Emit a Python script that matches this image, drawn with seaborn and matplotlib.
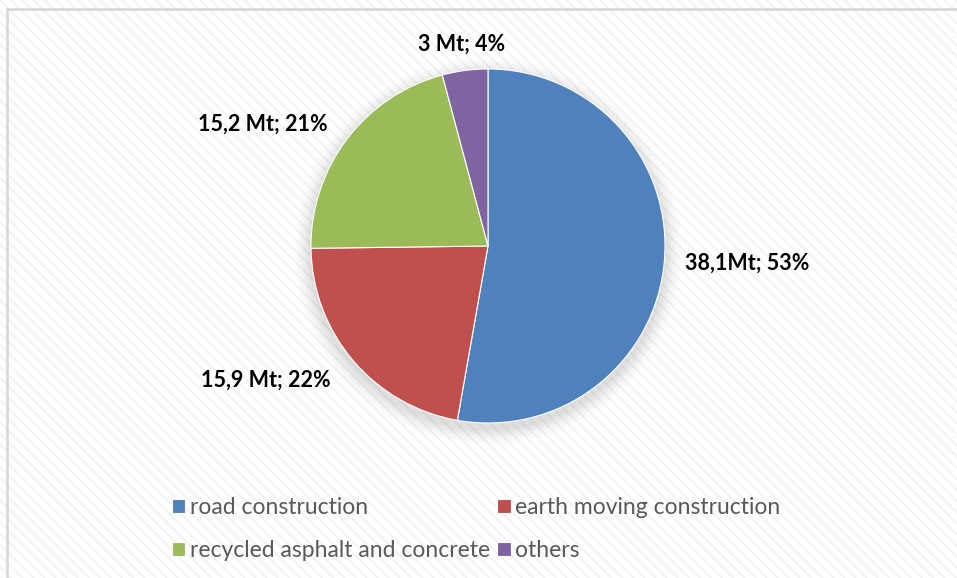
import numpy as np
import matplotlib.pyplot as plt
import seaborn as sns
from matplotlib.patches import Circle, Rectangle


sns.set_theme(style="white")
plt.rcParams['font.family'] = ['Lato', 'DejaVu Sans']
plt.rcParams['hatch.linewidth'] = 1.2

categories = ["road construction", "earth moving construction",
              "recycled asphalt and concrete", "others"]
values_mt = [38.1, 15.9, 15.2, 3.0]
slice_labels = ["38,1Mt; 53%", "15,9 Mt; 22%", "15,2 Mt; 21%", "3 Mt; 4%"]
label_dist = [1.12, 1.17, 1.14, 1.15]

colors = sns.color_palette(["#4F81BD", "#C0504D", "#9BBB59", "#8064A2"])

fig = plt.figure(figsize=(9.57, 5.78), dpi=100)
W, H = 957, 578

# faint striped background and light frame
fig.patches.append(Rectangle((0, 0), 1, 1, transform=fig.transFigure,
                             facecolor='white', edgecolor='#f1f1f1',
                             hatch='\\\\\\', lw=0, zorder=-10))
fig.patches.append(Rectangle((7 / W, -0.1), 1.1, 1 - 9 / H + 0.1,
                             transform=fig.transFigure, fill=False,
                             edgecolor='#d9d9d9', lw=2, zorder=-5))

# pie: centre ~ (488, 246) px, radius ~177 px
r_px = 177.0
cx, cy = 488, H - 246
ax = fig.add_axes([0, 0, 1, 1])
ax.axis('off')

# soft shadow
for k, a in enumerate(np.linspace(0.05, 0.012, 8)):
    ax.add_patch(Circle((0.0, -0.03), 1.0 + 0.012 * (k + 1),
                        facecolor='#7f7f7f', alpha=a, lw=0, zorder=0))

wedges, _ = ax.pie(values_mt, colors=colors, startangle=90, counterclock=False,
                   wedgeprops=dict(edgecolor='white', linewidth=0.8))
for w in wedges:
    w.set_zorder(2)

ax.set_xlim(-cx / r_px, (W - cx) / r_px)
ax.set_ylim(-cy / r_px, (H - cy) / r_px)
ax.set_aspect('equal')

for w, lab, d in zip(wedges, slice_labels, label_dist):
    ang = np.deg2rad((w.theta1 + w.theta2) / 2)
    x, y = d * np.cos(ang), d * np.sin(ang)
    if np.cos(ang) > 0.2:
        ha = 'left'
    elif np.cos(ang) < -0.2:
        ha = 'right'
    else:
        ha = 'center'
    ax.text(x, y, lab, ha=ha, va='center', fontsize=15.5, fontweight='bold',
            color='black', zorder=3)

order = [0, 2, 1, 3]
leg = fig.legend([wedges[i] for i in order], [categories[i] for i in order],
                 ncol=2, loc='center', bbox_to_anchor=(476 / W, 1 - 529 / H),
                 frameon=False, fontsize=16.5, handlelength=0.6,
                 handleheight=0.6, handletextpad=0.2, columnspacing=0.3,
                 labelspacing=0.95, labelcolor='#595959')

fig.savefig("out.png", dpi=100)
